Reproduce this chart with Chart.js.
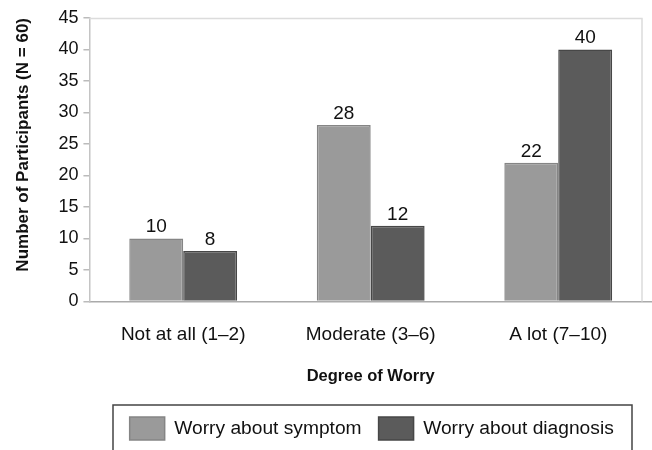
<!DOCTYPE html>
<html>
<head>
<meta charset="utf-8">
<script src="https://cdn.jsdelivr.net/npm/chart.js@4.4.0/dist/chart.umd.min.js"></script>
<style>
  html, body { margin: 0; padding: 0; background: #fff; }
  #wrap { width: 652px; height: 450px; }
</style>
</head>
<body>
<div id="wrap"><canvas id="chart"></canvas></div>
<script>
"use strict";

const categories = ["Not at all (1\u20132)", "Moderate (3\u20136)", "A lot (7\u201310)"];
const symptomValues = [10, 28, 22];
const diagnosisValues = [8, 12, 40];
const seriesNames = ["Worry about symptom", "Worry about diagnosis"];
const yTicks = [0, 5, 10, 15, 20, 25, 30, 35, 40, 45];

const FONT = "'Liberation Sans', Arial, sans-serif";

// value labels above each bar
const barLabels = {
    id: "barLabels",
    afterDatasetsDraw(chart) {
        const ctx = chart.ctx;
        ctx.save();
        ctx.font = `19px ${FONT}`;
        ctx.fillStyle = "#111";
        ctx.textAlign = "center";
        ctx.textBaseline = "bottom";
        chart.data.datasets.forEach((ds, i) => {
            chart.getDatasetMeta(i).data.forEach((bar, j) => {
                ctx.fillText(ds.data[j], bar.x, bar.y - 2);
            });
        });
        ctx.restore();
    }
};

// centre the legend under the plot area instead of the whole canvas
const legendShift = {
    id: "legendShift",
    afterLayout(chart) {
        const lg = chart.legend;
        const area = chart.chartArea;
        const shift = (area.left + area.right) / 2 - (lg.left + lg.right) / 2 + 1;
        lg.left += shift;
        lg.right += shift;
    }
};

// light frame line on top of plot + box round the legend
const frames = {
    id: "frames",
    beforeDatasetsDraw(chart) {
        const { ctx, chartArea } = chart;
        ctx.save();
        ctx.strokeStyle = "#dcdcdc";
        ctx.lineWidth = 1.5;
        ctx.beginPath();
        ctx.moveTo(chartArea.left, chartArea.top + 0.5);
        ctx.lineTo(chartArea.right - 10, chartArea.top + 0.5);
        ctx.lineTo(chartArea.right - 10, chartArea.bottom);
        ctx.stroke();
        ctx.restore();
    },
    afterDraw(chart) {
        const boxes = chart.legend.legendHitBoxes;
        if (!boxes || !boxes.length) return;
        const ctx = chart.ctx;
        const first = boxes[0];
        const last = boxes[boxes.length - 1];
        const left = Math.round(first.left - 17);
        const right = Math.round(last.left + last.width + 18);
        const top = Math.round(first.top - 12);
        ctx.save();
        ctx.strokeStyle = "#444";
        ctx.lineWidth = 1.5;
        ctx.beginPath();
        ctx.moveTo(left, chart.height);
        ctx.lineTo(left, top);
        ctx.lineTo(right, top);
        ctx.lineTo(right, chart.height);
        ctx.stroke();
        ctx.restore();
    }
};

const ctx = document.getElementById("chart").getContext("2d");

const myChart = new Chart(ctx, {
    type: "bar",
    data: {
        labels: categories,
        datasets: [{
            label: seriesNames[0],
            data: symptomValues,
            backgroundColor: "#9a9a9a",
            borderColor: "#858585",
            borderWidth: 1.5
        }, {
            label: seriesNames[1],
            data: diagnosisValues,
            backgroundColor: "#5b5b5b",
            borderColor: "#474747",
            borderWidth: 1.5
        }]
    },
    options: {
        responsive: true,
        maintainAspectRatio: false,
        animation: false,
        layout: { padding: { left: 13, right: 0, top: 18, bottom: 0 } },
        datasets: {
            bar: { categoryPercentage: 0.575, barPercentage: 1 }
        },
        plugins: {
            tooltip: { enabled: false },
            legend: {
                position: "bottom",
                labels: {
                    font: { family: FONT, size: 19.2 },
                    color: "#111",
                    boxWidth: 35,
                    boxHeight: 23,
                    padding: 17,
                    useBorderRadius: false
                }
            }
        },
        scales: {
            x: {
                grid: { drawOnChartArea: false, drawTicks: false },
                border: { display: true, color: "#aaa", width: 1.5 },
                ticks: {
                    font: { family: FONT, size: 19 },
                    color: "#111",
                    padding: 22
                },
                title: {
                    display: true,
                    text: "Degree of Worry",
                    font: { family: FONT, size: 16.5, weight: "bold" },
                    color: "#111",
                    padding: { top: -2, bottom: 14 }
                }
            },
            y: {
                min: 0,
                max: 45,
                afterBuildTicks: axis => { axis.ticks = yTicks.map(v => ({ value: v })); },
                grid: { drawOnChartArea: false, drawTicks: true, tickLength: 6, color: "#bbb", lineWidth: 1.5 },
                border: { display: true, color: "#c4c4c4", width: 1.5 },
                ticks: {
                    font: { family: FONT, size: 18 },
                    color: "#111",
                    padding: 5
                },
                title: {
                    display: true,
                    align: "end",
                    text: "Number of Participants (N = 60)",
                    font: { family: FONT, size: 17, weight: "bold" },
                    color: "#111",
                    padding: { top: 0, bottom: 20 }
                }
            }
        }
    },
    plugins: [legendShift, barLabels, frames]
});
</script>
</body>
</html>
